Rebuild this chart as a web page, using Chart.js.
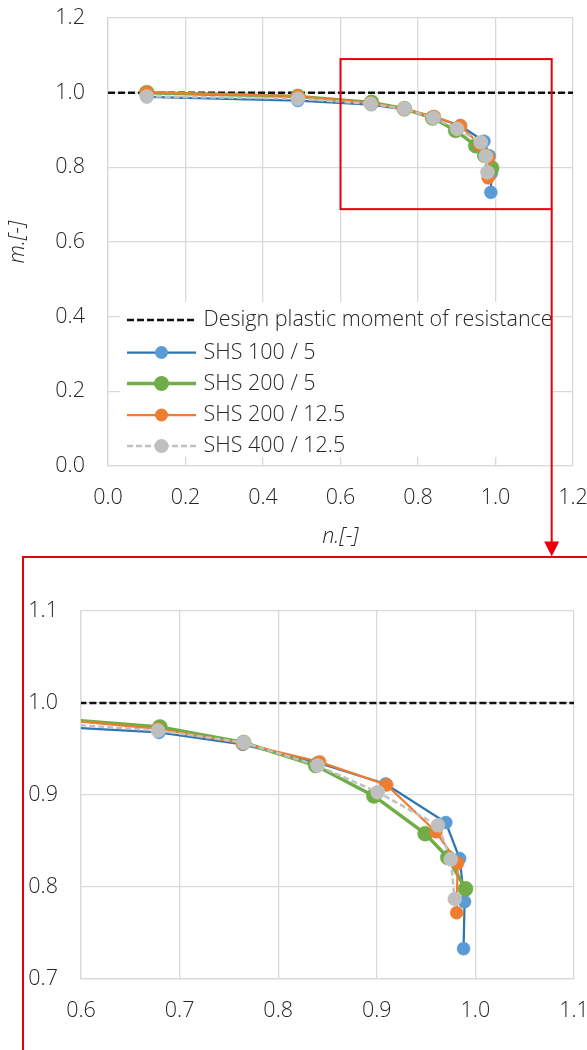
<!DOCTYPE html>
<html><head><meta charset="utf-8">
<script src="https://cdn.jsdelivr.net/npm/chart.js@4.4.0/dist/chart.umd.min.js"></script>
<style>
html,body{margin:0;padding:0;background:#fff;overflow:hidden;width:587px;height:1050px;}
#top{position:absolute;left:0;top:0;width:587px;height:560px;}
#bot{position:absolute;left:0;top:557px;width:587px;height:493px;}
#zoombox{position:absolute;left:22px;top:556px;width:700px;height:700px;border:2px solid #e8000b;box-sizing:border-box;pointer-events:none;}
</style></head>
<body>
<div id="top"><canvas id="c1"></canvas></div>
<div id="bot"><canvas id="c2"></canvas></div>
<div id="zoombox"></div>
<script>
// ---------- data ----------
const seriesNames = ["Design plastic moment of resistance", "SHS 100 / 5", "SHS 200 / 5", "SHS 200 / 12.5", "SHS 400 / 12.5"];
const designN = [0, 1.2];
const designM = [1.0, 1.0];
const n100_5 = [0.10, 0.49, 0.679, 0.764, 0.840, 0.909, 0.970, 0.984, 0.989, 0.988];
const m100_5 = [0.989, 0.979, 0.968, 0.955, 0.935, 0.912, 0.870, 0.831, 0.784, 0.733];
const n200_5 = [0.10, 0.49, 0.680, 0.765, 0.838, 0.897, 0.949, 0.972, 0.990];
const m200_5 = [1.000, 0.990, 0.974, 0.957, 0.932, 0.899, 0.858, 0.832, 0.798];
const n200_125 = [0.10, 0.49, 0.678, 0.764, 0.842, 0.910, 0.960, 0.982, 0.981];
const m200_125 = [1.001, 0.991, 0.972, 0.956, 0.936, 0.911, 0.860, 0.826, 0.772];
const n400_125 = [0.10, 0.49, 0.678, 0.765, 0.840, 0.901, 0.962, 0.975, 0.979];
const m400_125 = [0.990, 0.984, 0.970, 0.957, 0.932, 0.903, 0.867, 0.830, 0.787];
const topXTicks = [0.0, 0.2, 0.4, 0.6, 0.8, 1.0, 1.2];
const topYTicks = [0.0, 0.2, 0.4, 0.6, 0.8, 1.0, 1.2];
const botXTicks = [0.6, 0.7, 0.8, 0.9, 1.0, 1.1];
const botYTicks = [0.7, 0.8, 0.9, 1.0, 1.1];
const zoomBoxN = [0.6, 1.145];
const zoomBoxM = [0.688, 1.09];
const xTitle = "n.[-]";
const yTitle = "m.[-]";

// ---------- styles ----------
const FONT = "'Open Sans', 'Segoe UI', sans-serif";
const FSIZE = 21.5;
const TXT = '#262626';
const GRID = '#d9d9d9';
const RED = '#e8000b';
const pts = (xs, ys) => xs.map((v, i) => ({x: v, y: ys[i]}));

function makeDatasets(clip) {
  const c = clip === undefined ? {} : {clip: clip};
  return [
    Object.assign({label: seriesNames[0], data: pts(designN, designM), borderColor: '#111', borderWidth: 2.5,
      borderDash: [7, 3], pointRadius: 0, order: 5, showLine: true}, c),
    Object.assign({label: seriesNames[1], data: pts(n100_5, m100_5), borderColor: '#2e75b6', borderWidth: 2.25,
      pointRadius: 6.5, pointBackgroundColor: '#5b9bd5', pointBorderColor: '#5b9bd5', pointBorderWidth: 0.5, order: 4, showLine: true}, c),
    Object.assign({label: seriesNames[2], data: pts(n200_5, m200_5), borderColor: '#70ad47', borderWidth: 3.5,
      pointRadius: 7.5, pointBackgroundColor: '#70ad47', pointBorderColor: '#70ad47', pointBorderWidth: 0.5, order: 3, showLine: true}, c),
    Object.assign({label: seriesNames[3], data: pts(n200_125, m200_125), borderColor: '#ed7d31', borderWidth: 2.25,
      pointRadius: 6.5, pointBackgroundColor: '#ed7d31', pointBorderColor: '#ed7d31', pointBorderWidth: 0.5, order: 2, showLine: true}, c),
    Object.assign({label: seriesNames[4], data: pts(n400_125, m400_125), borderColor: '#c0c0c0', borderWidth: 2.5,
      borderDash: [6, 3], pointRadius: 7, pointBackgroundColor: '#bfbfbf', pointBorderColor: '#c8c8c8', pointBorderWidth: 0.5, order: 1, showLine: true}, c)
  ];
}

const tickFont = {family: FONT, size: FSIZE, weight: 300};
const titleFont = {family: FONT, size: FSIZE, weight: 300, style: 'italic'};

function axis(min, max, tickArr, extra) {
  return Object.assign({
    type: 'linear', min: min, max: max,
    grid: {color: GRID, lineWidth: 1.3, drawTicks: false},
    border: {color: GRID, width: 1.3},
    ticks: {color: TXT, font: tickFont, maxRotation: 0, autoSkip: false, callback: v => Number(v).toFixed(1)},
    afterBuildTicks: s => { s.ticks = tickArr.map(v => ({value: v})); }
  }, extra);
}

// legend + zoom frame + arrow on top chart
const topOverlay = {
  id: 'topOverlay',
  beforeDatasetsDraw(chart) {
    const ctx = chart.ctx;
    ctx.save();
    ctx.fillStyle = '#fff';
    ctx.fillRect(120, 302, 433, 155);
    const rows = [320, 352.5, 383.5, 415, 446];
    const ds = chart.data.datasets;
    ctx.font = '300 ' + FSIZE + 'px ' + FONT;
    ctx.textBaseline = 'middle';
    ctx.textAlign = 'left';
    rows.forEach((ry, i) => {
      const d = ds[i];
      ctx.save();
      ctx.strokeStyle = d.borderColor;
      ctx.lineWidth = d.borderWidth;
      ctx.setLineDash(d.borderDash || []);
      ctx.beginPath(); ctx.moveTo(127, ry); ctx.lineTo(196, ry); ctx.stroke();
      ctx.setLineDash([]);
      if (d.pointRadius > 0) {
        ctx.fillStyle = d.pointBackgroundColor;
        ctx.beginPath(); ctx.arc(161.5, ry, d.pointRadius, 0, Math.PI * 2); ctx.fill();
      }
      ctx.restore();
      ctx.fillStyle = TXT;
      ctx.fillText(d.label, 203.5, ry);
    });
    ctx.restore();
  },
  afterDatasetsDraw(chart) {
    const {ctx, scales: {x, y}} = chart;
    const l = x.getPixelForValue(zoomBoxN[0]), r = x.getPixelForValue(zoomBoxN[1]);
    const t = y.getPixelForValue(zoomBoxM[1]), b = y.getPixelForValue(zoomBoxM[0]);
    ctx.save();
    ctx.strokeStyle = RED; ctx.fillStyle = RED; ctx.lineWidth = 2;
    ctx.strokeRect(l, t, r - l, b - t);
    ctx.beginPath(); ctx.moveTo(r, b); ctx.lineTo(r, 545); ctx.stroke();
    ctx.beginPath(); ctx.moveTo(r - 7.5, 541.5); ctx.lineTo(r + 7.5, 541.5); ctx.lineTo(r, 556.5); ctx.closePath(); ctx.fill();
    ctx.restore();
  }
};

const common = {
  animation: false, responsive: true, maintainAspectRatio: false, events: [],
  plugins: {legend: {display: false}, tooltip: {enabled: false}}
};

new Chart(document.getElementById('c1'), {
  type: 'scatter',
  data: {datasets: makeDatasets()},
  plugins: [topOverlay],
  options: Object.assign({}, common, {
    layout: {padding: {top: 18, right: 14, left: 0, bottom: 0}},
    scales: {
      x: axis(0, 1.2, topXTicks, {
        position: 'bottom',
        title: {display: true, text: xTitle, color: TXT, font: titleFont, padding: {top: 0, bottom: 10}},
        afterFit: s => { s.height = 94; s.paddingLeft = 0; s.paddingRight = 0; }
      }),
      y: axis(0, 1.2, topYTicks, {
        position: 'left',
        title: {display: true, text: yTitle, color: TXT, font: titleFont, padding: {top: 5, bottom: 0}},
        afterFit: s => { s.width = 108; s.paddingTop = 0; s.paddingBottom = 0; }
      })
    }
  })
});
Chart.getChart('c1').options.scales.x.ticks.padding = 19;
Chart.getChart('c1').options.scales.y.ticks.padding = 23;
Chart.getChart('c1').update();

new Chart(document.getElementById('c2'), {
  type: 'scatter',
  data: {datasets: makeDatasets(0)},
  options: Object.assign({}, common, {
    layout: {padding: {top: 54, right: 13, left: 0, bottom: 0}},
    scales: {
      x: axis(0.6, 1.1, botXTicks, {
        position: 'bottom',
        afterFit: s => { s.height = 71; s.paddingLeft = 0; s.paddingRight = 0; }
      }),
      y: axis(0.7, 1.1, botYTicks, {
        position: 'left',
        afterFit: s => { s.width = 81; s.paddingTop = 0; s.paddingBottom = 0; }
      })
    }
  })
});
Chart.getChart('c2').options.scales.x.ticks.padding = 19;
Chart.getChart('c2').options.scales.y.ticks.padding = 23;
Chart.getChart('c2').update();
</script>
</body></html>
